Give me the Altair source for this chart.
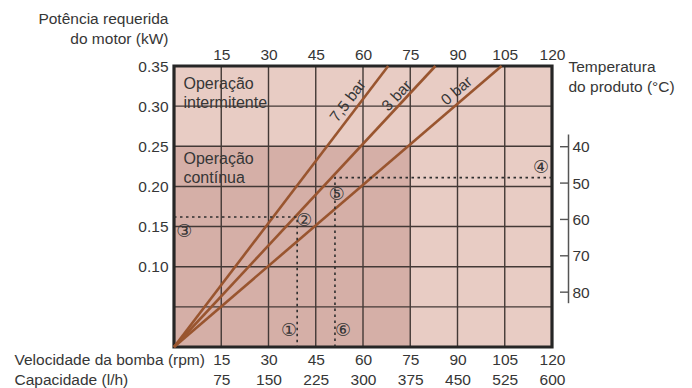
import altair as alt
import pandas as pd

# ---------------- data ----------------
rpm_ticks = [15, 30, 45, 60, 75, 90, 105, 120]
capacity_ticks = [75, 150, 225, 300, 375, 450, 525, 600]
kw_ticks = [0.05, 0.10, 0.15, 0.20, 0.25, 0.30, 0.35]
temp_ticks = [40, 50, 60, 70, 80]
temp_axis_span = [36.5, 82.9]

rpm_domain = [0, 120]
kw_domain = [0, 0.35]

region_names = ["Operação intermitente", "Operação contínua"]
region_x2 = [120, 75]
region_y2 = [0.35, 0.25]
region_text = [["Operação", "intermitente"], ["Operação", "contínua"]]
region_text_x = [3, 3]
region_text_y = [0.3216, 0.2279]

pressure_labels = ["7,5 bar", "3 bar", "0 bar"]
line_end_rpm = [68, 83, 104]      # rpm at which each line reaches 0.35 kW
line_end_kw = [0.35, 0.35, 0.35]
pressure_text_x = [55.2, 70.7, 89.7]
pressure_text_y = [0.3068, 0.313, 0.3192]
pressure_text_angle = [307, 313, 319.4]

marker_labels = ["①", "②", "③", "④", "⑤", "⑥"]
marker_x = [36.5, 41.4, 3.3, 116.5, 51.7, 53.7]
marker_y = [0.0203, 0.157, 0.143, 0.2226, 0.189, 0.020]

guide1_x = [0, 39.1, 39.1]
guide1_y = [0.162, 0.162, 0]
guide2_x = [120, 51.1, 51.1]
guide2_y = [0.211, 0.211, 0]

# ---------------- style ----------------
W, H = 378, 281
FONT = "Liberation Sans"
TXT = "#363636"
GRID = "#433936"
BROWN = "#99552f"
FS = 15.5

xscale = alt.Scale(domain=rpm_domain, nice=False, zero=False)
yscale = alt.Scale(domain=kw_domain, nice=False, zero=False)

bottom_expr = " : ".join(
    f"datum.value == {r} ? ['{r}', '{c}']" for r, c in zip(rpm_ticks, capacity_ticks)
) + " : ''"

x_bottom_axis = alt.Axis(
    orient="bottom", values=rpm_ticks, labelExpr=bottom_expr, grid=False,
    ticks=False, tickSize=0, domain=False, labelPadding=5, labelLineHeight=20,
    labelFlush=False,
    title=["Velocidade da bomba (rpm)", "Capacidade (l/h)"], titleAngle=0,
    titleAlign="left", titleBaseline="alphabetic", titleX=-160, titleY=17,
    titleLineHeight=20,
)
x_top_axis = alt.Axis(
    orient="top", values=rpm_ticks, grid=False, ticks=False, tickSize=0,
    domain=False, labelPadding=4, labelFlush=False,
    title=["Temperatura", "do produto (°C)"], titleAngle=0, titleAlign="left",
    titleBaseline="alphabetic", titleX=394, titleY=5, titleLineHeight=20,
)
y_left_axis = alt.Axis(
    orient="left", values=kw_ticks, format=".2f",
    labelExpr="datum.value < 0.07 ? '' : datum.label", grid=False, ticks=False,
    tickSize=0, domain=False, labelPadding=6,
    title=["Potência requerida", "do motor (kW)"], titleAngle=0, titleAlign="right",
    titleBaseline="alphabetic", titleX=-6, titleY=-43, titleLineHeight=20,
)

# ---------------- layers ----------------
reg_df = pd.DataFrame({"name": region_names, "x0": [0, 0], "x2": region_x2,
                       "y0": [0, 0], "y2": region_y2})
rects = alt.Chart(reg_df).mark_rect().encode(
    x=alt.X("x0:Q", scale=xscale, axis=x_bottom_axis),
    x2="x2:Q",
    y=alt.Y("y0:Q", scale=yscale, axis=y_left_axis),
    y2="y2:Q",
    color=alt.Color("name:N", scale=alt.Scale(domain=region_names,
                                               range=["#e8ccc4", "#d5afa7"]), legend=None),
)

vgrid = alt.Chart(pd.DataFrame({"x": rpm_ticks[:-1]})).mark_rule(
    color=GRID, strokeWidth=1.4).encode(
    x=alt.X("x:Q", scale=xscale, axis=x_top_axis))

hgrid = alt.Chart(pd.DataFrame({"y": kw_ticks[:-1]})).mark_rule(
    color=GRID, strokeWidth=1.4).encode(
    y=alt.Y("y:Q", scale=yscale, axis=None))

frame_df = pd.DataFrame({"x0": [rpm_domain[0]], "x2": [rpm_domain[1]],
                         "y0": [kw_domain[0]], "y2": [kw_domain[1]]})
frame = alt.Chart(frame_df).mark_rect(filled=False, stroke="#262626", strokeWidth=3.2).encode(
    x=alt.X("x0:Q", scale=xscale, axis=None), x2="x2:Q",
    y=alt.Y("y0:Q", scale=yscale, axis=None), y2="y2:Q")

line_rows = []
for lab, xe, ye in zip(pressure_labels, line_end_rpm, line_end_kw):
    line_rows.append({"p": lab, "rpm": 0, "kw": 0, "i": 0})
    line_rows.append({"p": lab, "rpm": xe, "kw": ye, "i": 1})
lines = alt.Chart(pd.DataFrame(line_rows)).mark_line(color=BROWN, strokeWidth=2.6).encode(
    x=alt.X("rpm:Q", scale=xscale, axis=None),
    y=alt.Y("kw:Q", scale=yscale, axis=None),
    detail="p:N", order="i:Q")

g_rows = []
for k, (gx, gy) in enumerate([(guide1_x, guide1_y), (guide2_x, guide2_y)]):
    for i, (a, b) in enumerate(zip(gx, gy)):
        g_rows.append({"g": k, "i": i, "rpm": a, "kw": b})
guides = alt.Chart(pd.DataFrame(g_rows)).mark_line(
    color="#2e2e2e", strokeWidth=1.6, strokeDash=[2.5, 3.5]).encode(
    x=alt.X("rpm:Q", scale=xscale, axis=None),
    y=alt.Y("kw:Q", scale=yscale, axis=None),
    detail="g:N", order="i:Q")

ptext = alt.Chart(pd.DataFrame({"t": pressure_labels, "x": pressure_text_x,
                                "y": pressure_text_y, "a": pressure_text_angle})).mark_text(
    font=FONT, fontSize=FS, color=TXT, align="center", baseline="middle").encode(
    x=alt.X("x:Q", scale=xscale, axis=None),
    y=alt.Y("y:Q", scale=yscale, axis=None),
    angle=alt.Angle("a:Q", scale=None),
    text="t:N")

rtext = alt.Chart(pd.DataFrame({"t": region_text, "x": region_text_x,
                                "y": region_text_y})).mark_text(
    font=FONT, fontSize=FS + 0.5, color=TXT, align="left", baseline="alphabetic",
    lineHeight=19).encode(
    x=alt.X("x:Q", scale=xscale, axis=None),
    y=alt.Y("y:Q", scale=yscale, axis=None),
    text="t")

markers = alt.Chart(pd.DataFrame({"t": marker_labels, "x": marker_x,
                                  "y": marker_y})).mark_text(
    font="DejaVu Sans", fontSize=18, color=TXT, align="center", baseline="middle").encode(
    x=alt.X("x:Q", scale=xscale, axis=None),
    y=alt.Y("y:Q", scale=yscale, axis=None),
    text="t:N")

inner = alt.layer(rects, vgrid, hgrid, frame, lines, guides, ptext, rtext, markers).resolve_axis(
    x="independent", y="independent")

tscale = alt.Scale(domain=temp_axis_span, range=[68, 236.7], nice=False, zero=False)
temp = alt.Chart(pd.DataFrame({"t": temp_ticks})).mark_rule(
    color="#555555", strokeWidth=1.4).encode(
    y=alt.Y("t:Q", scale=tscale,
            axis=alt.Axis(orient="right", offset=16, values=temp_ticks, format="d",
                          ticks=False, tickSize=0, domain=True, domainColor="#555555",
                          domainWidth=1.5, grid=False, labelPadding=4, title=None)),
    x=alt.value(W + 8), x2=alt.value(W + 16))

chart = alt.layer(inner, temp).resolve_scale(y="independent").properties(
    width=W, height=H, autosize="none",
    padding={"left": 174, "top": 66, "right": 692 - 174 - W, "bottom": 388 - 66 - H},
    background="white",
).configure_view(strokeWidth=0).configure_axis(
    labelFont=FONT, labelFontSize=FS, labelColor=TXT,
    titleFont=FONT, titleFontSize=FS, titleColor=TXT, titleFontWeight="normal",
)

chart.save("out.html", embed_options={"renderer": "svg", "actions": False})
